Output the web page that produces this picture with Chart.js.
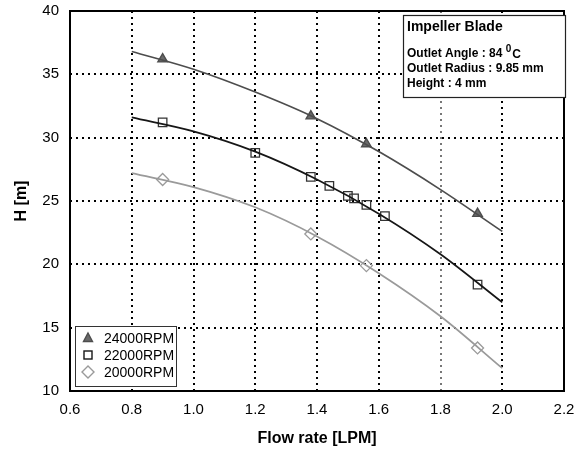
<!DOCTYPE html>
<html>
<head>
<meta charset="utf-8">
<script src="https://cdn.jsdelivr.net/npm/chart.js@4/dist/chart.umd.min.js"></script>
<style>
  html, body { margin: 0; padding: 0; background: #fff; }
  #wrap { width: 583px; height: 455px; }
</style>
</head>
<body>
<div id="wrap"><canvas id="c" width="583" height="455"></canvas></div>
<script>
// ---- data ----
const seriesNames = ['24000RPM', '22000RPM', '20000RPM'];

const flow24 = [0.90, 1.38, 1.56, 1.92];
const head24 = [36.2, 31.7, 29.5, 24.0];

const flow22 = [0.90, 1.20, 1.38, 1.44, 1.50, 1.52, 1.56, 1.62, 1.92];
const head22 = [31.2, 28.8, 26.9, 26.2, 25.4, 25.2, 24.7, 23.8, 18.4];

const flow20 = [0.90, 1.38, 1.56, 1.92];
const head20 = [26.7, 22.4, 19.9, 13.4];

const fitFlow = [0.8, 1.0, 1.2, 1.4, 1.6, 1.8, 2.0];
const fit24 = [36.8, 35.4, 33.6, 31.5, 28.9, 25.9, 22.6];
const fit22 = [31.6, 30.5, 28.9, 26.7, 24.0, 20.8, 17.0];
const fit20 = [27.2, 26.1, 24.5, 22.2, 19.3, 15.9, 11.8];

const xTickValues = [0.6, 0.8, 1.0, 1.2, 1.4, 1.6, 1.8, 2.0, 2.2];
const yTickValues = [10, 15, 20, 25, 30, 35, 40];

const xTitle = 'Flow rate [LPM]';
const yTitle = 'H [m]';
const noteTitle = 'Impeller Blade';
const noteLines = ['Outlet Angle : 84 ', 'Outlet Radius : 9.85 mm', 'Height : 4 mm'];

// ---- styles ----
const col24 = '#4d4d4d', col22 = '#161616', col20 = '#9a9a9a';
const pts = (xs, ys) => xs.map((x, i) => ({ x: x, y: ys[i] }));

const frameAndBoxes = {
  id: 'frameAndBoxes',
  afterDatasetsDraw(chart) {
    const { ctx, chartArea: a } = chart;
    ctx.save();
    ctx.strokeStyle = '#000';
    ctx.lineWidth = 2;
    ctx.setLineDash([]);
    ctx.strokeRect(a.left, a.top, a.right - a.left, a.bottom - a.top);
    ctx.restore();
  },
  afterDraw(chart) {
    const { ctx } = chart;
    ctx.save();
    // annotation box
    const bx = 403, by = 15, bw = 162, bh = 82;
    ctx.fillStyle = '#fff';
    ctx.fillRect(bx, by, bw, bh);
    ctx.strokeStyle = '#222';
    ctx.lineWidth = 1.2;
    ctx.strokeRect(bx + 0.5, by + 0.5, bw, bh);
    ctx.fillStyle = '#000';
    ctx.textBaseline = 'alphabetic';
    ctx.textAlign = 'left';
    ctx.font = 'bold 14px "Liberation Sans", Arial, sans-serif';
    ctx.fillText(noteTitle, 407, 31);
    ctx.font = 'bold 12px "Liberation Sans", Arial, sans-serif';
    ctx.fillText(noteLines[0], 407, 57);
    let w = ctx.measureText(noteLines[0]).width;
    ctx.font = 'bold 10px "Liberation Sans", Arial, sans-serif';
    ctx.fillText('0', 407 + w, 52);
    let w2 = ctx.measureText('0').width;
    ctx.font = 'bold 12px "Liberation Sans", Arial, sans-serif';
    ctx.fillText('C', 407 + w + w2 + 1, 58);
    ctx.fillText(noteLines[1], 407, 72);
    ctx.fillText(noteLines[2], 407, 87);

    // legend box
    const lx = 75, ly = 326, lw = 101, lh = 60;
    ctx.fillStyle = '#fff';
    ctx.fillRect(lx, ly, lw, lh);
    ctx.strokeStyle = '#333';
    ctx.lineWidth = 1;
    ctx.strokeRect(lx + 0.5, ly + 0.5, lw, lh);
    ctx.font = '14px "Liberation Sans", Arial, sans-serif';
    ctx.textBaseline = 'middle';
    const rowsY = [338, 355, 372];
    const sx = 88;
    // triangle
    ctx.lineWidth = 1.4;
    ctx.beginPath();
    ctx.moveTo(sx, rowsY[0] - 5);
    ctx.lineTo(sx + 4.5, rowsY[0] + 3.5);
    ctx.lineTo(sx - 4.5, rowsY[0] + 3.5);
    ctx.closePath();
    ctx.fillStyle = '#6a6a6a';
    ctx.fill();
    ctx.strokeStyle = col24;
    ctx.stroke();
    // square
    ctx.strokeStyle = col22;
    ctx.strokeRect(sx - 4, rowsY[1] - 4, 8, 8);
    // diamond
    ctx.strokeStyle = col20;
    ctx.beginPath();
    ctx.moveTo(sx, rowsY[2] - 6);
    ctx.lineTo(sx + 6, rowsY[2]);
    ctx.lineTo(sx, rowsY[2] + 6);
    ctx.lineTo(sx - 6, rowsY[2]);
    ctx.closePath();
    ctx.stroke();
    ctx.fillStyle = '#000';
    seriesNames.forEach((n, i) => ctx.fillText(n, 104, rowsY[i] + 1));
    ctx.restore();
  }
};

const tickFont = { family: '"Liberation Sans", Arial, sans-serif', size: 15 };
const titleFont = { family: '"Liberation Sans", Arial, sans-serif', size: 16, weight: 'bold' };

new Chart(document.getElementById('c'), {
  type: 'scatter',
  data: {
    datasets: [
      { label: seriesNames[0] + ' fit', data: pts(fitFlow, fit24), showLine: true, borderColor: col24, borderWidth: 1.7, pointRadius: 0, cubicInterpolationMode: 'monotone', fill: false },
      { label: seriesNames[1] + ' fit', data: pts(fitFlow, fit22), showLine: true, borderColor: col22, borderWidth: 1.7, pointRadius: 0, cubicInterpolationMode: 'monotone', fill: false },
      { label: seriesNames[2] + ' fit', data: pts(fitFlow, fit20), showLine: true, borderColor: col20, borderWidth: 1.7, pointRadius: 0, cubicInterpolationMode: 'monotone', fill: false },
      { label: seriesNames[0], data: pts(flow24, head24), showLine: false, pointStyle: 'triangle', pointRadius: 5.5, borderColor: col24, backgroundColor: '#6a6a6a', borderWidth: 1.4 },
      { label: seriesNames[1], data: pts(flow22, head22), showLine: false, pointStyle: 'rect', pointRadius: 6, borderColor: '#333', backgroundColor: 'rgba(255,255,255,0)', borderWidth: 1.3 },
      { label: seriesNames[2], data: pts(flow20, head20), showLine: false, pointStyle: 'rectRot', pointRadius: 6, borderColor: col20, backgroundColor: 'rgba(255,255,255,0)', borderWidth: 1.3 }
    ]
  },
  options: {
    responsive: false,
    animation: false,
    devicePixelRatio: 1,
    layout: { padding: { top: 11, right: 19, left: 0, bottom: 0 } },
    plugins: { legend: { display: false }, tooltip: { enabled: false } },
    scales: {
      x: {
        type: 'linear', min: 0.6, max: 2.2,
        afterBuildTicks: s => { s.ticks = xTickValues.map(v => ({ value: v })); },
        afterFit: s => { s.height = 64; s.paddingLeft = 0; s.paddingRight = 0; },
        ticks: { color: '#000', font: tickFont, padding: 10, callback: v => Number(v).toFixed(1), maxRotation: 0, autoSkip: false },
        grid: { drawTicks: false, color: c => (c.tick && Math.abs(c.tick.value - 1.8) < 1e-6) ? '#777' : '#000', lineWidth: 2 },
        border: { display: false, dash: [2, 4] },
        title: { display: true, text: xTitle, color: '#000', font: titleFont, padding: { top: 0, bottom: 7 } }
      },
      y: {
        type: 'linear', min: 10, max: 40,
        afterBuildTicks: s => { s.ticks = yTickValues.map(v => ({ value: v })); },
        afterFit: s => { s.width = 70; s.paddingTop = 0; s.paddingBottom = 0; },
        ticks: { color: '#000', font: tickFont, padding: 11, autoSkip: false },
        grid: { drawTicks: false, color: '#000', lineWidth: 2 },
        border: { display: false, dash: [2, 4] },
        title: { display: true, text: yTitle, color: '#000', font: titleFont, padding: { top: 12, bottom: 0 } }
      }
    }
  },
  plugins: [frameAndBoxes]
});
</script>
</body>
</html>
